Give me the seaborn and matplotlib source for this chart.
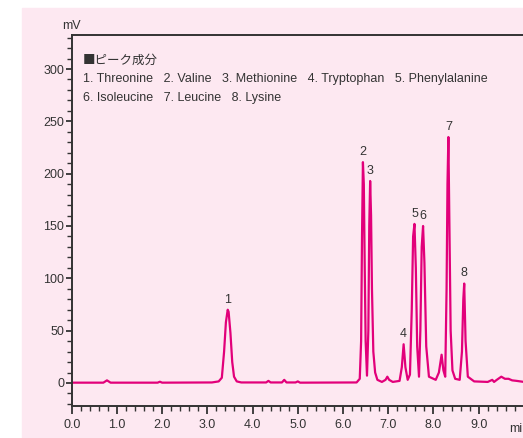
import pandas as pd
import matplotlib
matplotlib.use('Agg')
import matplotlib.pyplot as plt
import seaborn as sns
from matplotlib.patches import Rectangle
from matplotlib.ticker import MultipleLocator

# chromatogram trace (min, mV)
time = [0.0, 0.70, 0.78, 0.86, 1.90, 1.95, 2.00, 3.10, 3.25, 3.32, 3.37, 3.41,
        3.45, 3.47, 3.51, 3.55, 3.59, 3.65, 3.75, 4.30, 4.35, 4.40, 4.65, 4.70,
        4.75, 4.95, 5.00, 5.05, 6.30, 6.37, 6.40, 6.42, 6.44, 6.46, 6.48, 6.50,
        6.53, 6.56, 6.58, 6.60, 6.62, 6.64, 6.67, 6.71, 6.76, 6.86, 6.94, 6.98,
        7.02, 7.10, 7.25, 7.30, 7.34, 7.38, 7.43, 7.48, 7.52, 7.55, 7.58, 7.61,
        7.64, 7.68, 7.71, 7.74, 7.77, 7.80, 7.84, 7.90, 8.05, 8.12, 8.18, 8.22,
        8.26, 8.29, 8.31, 8.33, 8.35, 8.38, 8.42, 8.48, 8.58, 8.63, 8.66, 8.68,
        8.71, 8.76, 8.90, 9.20, 9.30, 9.34, 9.40, 9.50, 9.58, 9.66, 9.74, 9.84,
        10.0]
signal = [0.3, 0.3, 2.5, 0.3, 0.3, 1.2, 0.3, 0.5, 1.5, 5, 30, 58,
          70, 68, 48, 20, 6, 1.5, 0.5, 0.5, 2, 0.5, 0.5, 3,
          0.5, 0.5, 1.5, 0.3, 0.5, 4, 40, 140, 211, 190, 110, 40,
          7, 50, 150, 193, 160, 90, 30, 10, 3, 1, 3, 6,
          3, 1, 2, 15, 37, 15, 3, 8, 70, 140, 152, 110,
          35, 6, 50, 130, 150, 115, 35, 6, 3, 10, 27, 12,
          6, 90, 190, 235, 160, 50, 12, 4, 3, 30, 80, 95,
          40, 6, 1.5, 1, 3, 1, 3, 6, 4, 4, 2.5, 2,
          1]

peak_labels = ['1', '2', '3', '4', '5', '6', '7', '8']
peak_times = [3.45, 6.44, 6.60, 7.34, 7.58, 7.77, 8.33, 8.68]
peak_heights = [70, 211, 193, 37, 152, 150, 235, 95]

components = ['1. Threonine', '2. Valine', '3. Methionine', '4. Tryptophan',
              '5. Phenylalanine', '6. Isoleucine', '7. Leucine', '8. Lysine']

sns.set_style('ticks')
plt.rcParams['font.family'] = ['Liberation Sans', 'Noto Sans CJK JP']

pink = '#fde8f1'
ink = '#333333'
line_col = '#e2007a'

fig = plt.figure(figsize=(5.23, 4.38), dpi=100)
fig.patches.append(Rectangle((22 / 523, 0), 1 - 22 / 523, 1 - 8 / 438,
                             transform=fig.transFigure, color=pink, zorder=-5))
ax = fig.add_axes([71.7 / 523, 1 - 406 / 438, 1 - 71.7 / 523, (406 - 35) / 438])
ax.set_facecolor(pink)

df = pd.DataFrame({'time': time, 'signal': signal})
sns.lineplot(data=df, x='time', y='signal', ax=ax, color=line_col,
             linewidth=1.6, sort=False)

for lab, t, h in zip(peak_labels, peak_times, peak_heights):
    ax.annotate(lab, (t, h), xytext=(0, 3), textcoords='offset points',
                ha='center', va='bottom', fontsize=9, color=ink)

ax.set_xlim(0, 9.98)
ax.set_ylim(-22, 332.5)
ax.xaxis.set_minor_locator(MultipleLocator(0.2))
ax.yaxis.set_major_locator(MultipleLocator(50))
ax.yaxis.set_minor_locator(MultipleLocator(10))
ax.set_xticks([i * 1.0 for i in range(10)])
ax.set_xticklabels([f'{i:.1f}' for i in range(10)])
ax.tick_params(which='major', length=6, width=1.3, color=ink,
               labelsize=9, labelcolor=ink, pad=3)
ax.tick_params(which='minor', length=3.5, width=1.0, color=ink)
ax.tick_params(axis='y', which='major', length=4.5, pad=1)

for s in ['top', 'left', 'bottom']:
    ax.spines[s].set_color(ink)
    ax.spines[s].set_linewidth(1.4)
ax.spines['right'].set_visible(False)
ax.set_xlabel('')
ax.set_ylabel('')

ax.text(-0.2, 335, 'mV', ha='left', va='bottom', fontsize=9, color=ink,
        clip_on=False)
ax.text(9.68, -0.045, 'min', transform=ax.get_xaxis_transform(), ha='left',
        va='top', fontsize=9, color=ink)

# component table
ax.text(0.25, 308.5, '■ピーク成分', fontsize=9, color=ink, va='center',
        family=['Noto Sans CJK JP', 'DejaVu Sans'])
ax.text(0.25, 290.5, '   '.join(components[:5]), fontsize=9, color=ink, va='center')
ax.text(0.25, 272.5, '   '.join(components[5:]), fontsize=9, color=ink, va='center')

fig.savefig('out.png', dpi=100, facecolor='white')
